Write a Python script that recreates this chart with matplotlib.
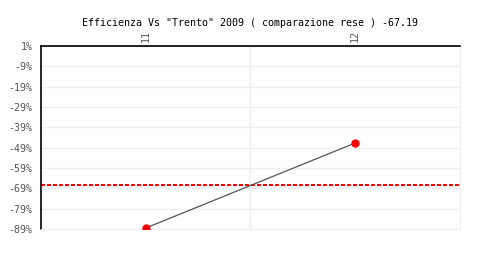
import matplotlib
matplotlib.use("Agg")
import matplotlib.pyplot as plt

# dati
categorie = ["11", "12"]
efficienza = [-88.5, -46.7]
riferimento = -67.19
yticks = [1, -9, -19, -29, -39, -49, -59, -69, -79, -89]
titolo = 'Efficienza Vs "Trento" 2009 ( comparazione rese ) -67.19'

plt.rcParams['font.family'] = ['DejaVu Sans Mono']

fig = plt.figure(figsize=(5, 2.8), dpi=100)
ax = fig.add_axes([0.082, 0.182, 0.838, 0.654])

xs = list(range(1, len(categorie) + 1))
ax.plot(xs, efficienza, color="#555555", linewidth=0.9, zorder=3)
ax.plot(xs, efficienza, "o", color="red", markersize=5, zorder=4)
ax.axhline(riferimento, color="#ff0000", linestyle=(0, (2.5, 1.5)), linewidth=1.1,
           antialiased=False, zorder=2)

ax.set_xlim(0.5, len(categorie) + 0.5)
ax.set_ylim(-89, 1)
ax.set_yticks(yticks)
ax.set_yticklabels(["%d%%" % v for v in yticks], fontsize=7.2, color="#555555")

ax.xaxis.tick_top()
ax.set_xticks(xs)
ax.set_xticklabels(categorie, rotation=90, fontsize=7.2, color="#555555")
ax.tick_params(axis="x", which="both", length=0, pad=3)
ax.tick_params(axis="y", length=0, pad=6)

ax.grid(False)
for v in yticks:
    ax.axhline(v, color="#eeeeee", linewidth=1, zorder=0)
ax.axvline(1.5, color="#eeeeee", linewidth=1, zorder=0)

for s in ["bottom", "right"]:
    ax.spines[s].set_color("#eeeeee")
ax.spines["top"].set_color("black")
ax.spines["left"].set_color("black")
ax.spines["top"].set_linewidth(1.2)
ax.spines["left"].set_linewidth(1.2)

fig.text(0.5, 0.918, titolo, ha="center", va="center", fontsize=7.2, color="black")

fig.savefig("out.png", dpi=100)
